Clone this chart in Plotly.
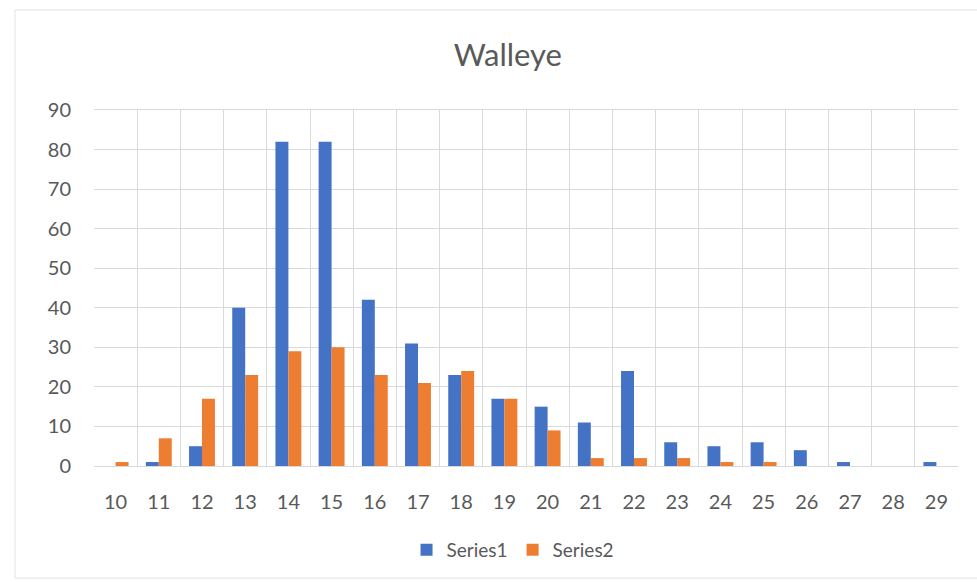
import plotly.graph_objects as go

# Walleye length classes (inches) and fish counts per series
lengths = ["10", "11", "12", "13", "14", "15", "16", "17", "18", "19",
           "20", "21", "22", "23", "24", "25", "26", "27", "28", "29"]
series1 = [0, 1, 5, 40, 82, 82, 42, 31, 23, 17, 15, 11, 24, 6, 5, 6, 4, 1, 0, 1]
series2 = [1, 7, 17, 23, 29, 30, 23, 21, 24, 17, 9, 2, 2, 2, 1, 1, 0, 0, 0, 0]

FONT = "Lato"
TEXT = "#595959"
GRID = "#d9d9d9"

fig = go.Figure()
fig.add_trace(go.Bar(x=lengths, y=series1, name="Series1", marker_color="#4472C4",
                     marker_line_width=0))
fig.add_trace(go.Bar(x=lengths, y=series2, name="Series2", marker_color="#ED7D31",
                     marker_line_width=0))

fig.update_layout(
    width=977, height=582,
    margin=dict(l=94, r=19, t=110, b=116),
    paper_bgcolor="white", plot_bgcolor="white",
    barmode="group", bargap=0.4, bargroupgap=0,
    font=dict(family=FONT, color=TEXT),
    title=dict(text="Walleye", x=0.479, xref="paper", xanchor="center",
               y=0.905, yanchor="middle",
               font=dict(family=FONT, size=31, color=TEXT)),
    legend=dict(orientation="h", x=0.485, xanchor="center", y=-0.236, yanchor="middle",
                font=dict(family=FONT, size=19, color=TEXT)),
    xaxis=dict(type="category", tickson="boundaries", ticks="",
               showgrid=True, gridcolor=GRID, gridwidth=1,
               showline=True, linecolor=GRID, mirror=True,
               ticklabelstandoff=18,
               tickfont=dict(size=20, color=TEXT)),
    yaxis=dict(range=[0, 90], dtick=10, showgrid=True, gridcolor=GRID, gridwidth=1,
               zeroline=False, showline=False, ticks="", ticklabelstandoff=22,
               tickfont=dict(size=20, color=TEXT)),
    shapes=[dict(type="rect", xref="paper", yref="paper",
                 x0=-0.0914, x1=1.03, y0=-0.315, y1=1.281,
                 line=dict(color="#e3e3e3", width=1), layer="below")],
)

fig.write_html("out.html")
